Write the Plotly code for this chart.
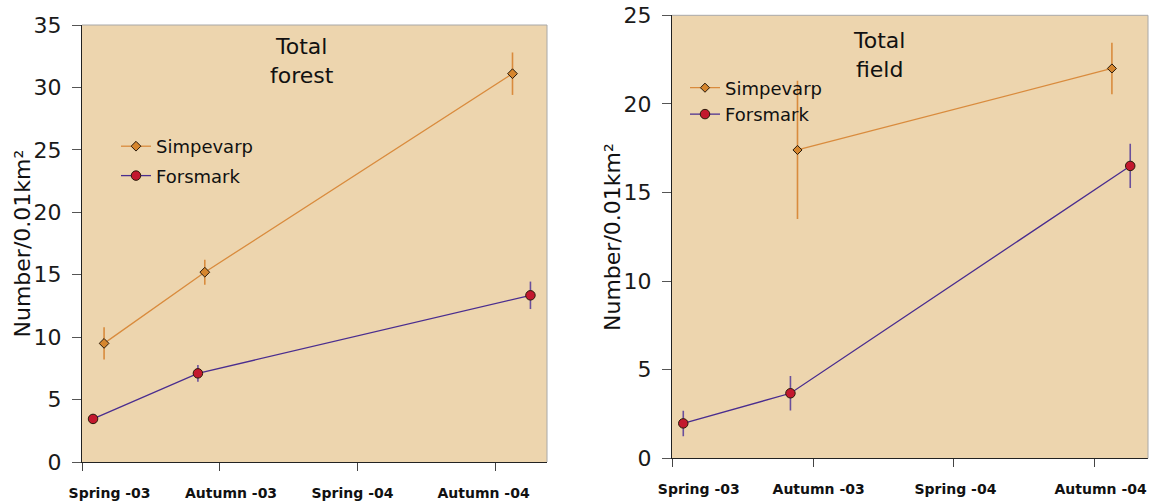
import plotly.graph_objects as go

# ---------------- data ----------------
periods = ["Spring -03", "Autumn -03", "Spring -04", "Autumn -04"]
period_ticks = [0, 1, 2, 3]

# sampling positions (in period units) for each site
simpevarp_x = [0.16, 0.89, 3.12]
forsmark_x = [0.08, 0.84, 3.25]

forest_simpevarp = [9.5, 15.2, 31.1]
forest_simpevarp_err = [1.3, 1.0, 1.7]
forest_forsmark = [3.45, 7.1, 13.35]
forest_forsmark_err = [0.4, 0.67, 1.1]

field_simpevarp_x = [0.89, 3.12]
field_simpevarp = [17.4, 22.0]
field_simpevarp_err = [3.9, 1.45]
field_forsmark = [1.97, 3.67, 16.5]
field_forsmark_err = [0.72, 0.97, 1.25]

# ---------------- style ----------------
W, H = 1149, 502
BG = "#EDD5AE"
S_LINE = "#D98B3D"
S_FILL = "#D6862E"
F_LINE = "#4A2D8F"
F_ERR = "#6A4F9C"
F_FILL = "#C3182E"
EDGE = "#2A1A0A"
FONT = "DejaVu Sans"

def px_x(p):
    return p / W

def px_y(p):
    return 1 - p / H

left_dom = [px_x(82), px_x(547)]
right_dom = [px_x(672), px_x(1148)]
left_ydom = [px_y(462), px_y(25)]
right_ydom = [px_y(458.3), px_y(15.3)]
left_xrange = [0, 3.37]
right_xrange = [0, 3.376]
left_label_pos = [0.2, 1.08, 1.96, 2.91]
right_label_pos = [0.19, 1.04, 2.01, 3.04]

fig = go.Figure()

def add_series(x, y, err, name, line_c, err_c, fill, symbol, size, xa, ya, legend):
    fig.add_trace(go.Scatter(
        x=x, y=y, name=name, mode="lines+markers",
        xaxis=xa, yaxis=ya, legend=legend, legendgroup=name + legend,
        line=dict(color=line_c, width=1.3),
        marker=dict(symbol=symbol, size=size, color=fill, line=dict(color=EDGE, width=1)),
        error_y=dict(type="data", array=err, visible=True, color=err_c, thickness=1.6, width=0),
    ))

# left: Total forest
add_series(simpevarp_x, forest_simpevarp, forest_simpevarp_err, "Simpevarp",
           S_LINE, S_LINE, S_FILL, "diamond", 7.5, "x3", "y", "legend")
add_series(forsmark_x, forest_forsmark, forest_forsmark_err, "Forsmark",
           F_LINE, F_ERR, F_FILL, "circle", 9.5, "x", "y", "legend")
# right: Total field
add_series(field_simpevarp_x, field_simpevarp, field_simpevarp_err, "Simpevarp",
           S_LINE, S_LINE, S_FILL, "diamond", 7, "x4", "y2", "legend2")
add_series(forsmark_x, field_forsmark, field_forsmark_err, "Forsmark",
           F_LINE, F_ERR, F_FILL, "circle", 9.5, "x2", "y2", "legend2")

label_axis = dict(
    tickmode="array", ticktext=periods, ticks="outside", ticklen=18,
    tickcolor="rgba(0,0,0,0)", showline=True, linecolor="#222222", linewidth=1.2,
    showgrid=False, zeroline=False, automargin=False, ticklabeloverflow="allow",
    tickfont=dict(family=FONT, size=14, color="#111111", weight="bold"),
)
mark_axis = dict(
    tickmode="array", tickvals=period_ticks, ticks="outside", ticklen=8,
    tickcolor="#444444", tickwidth=1, showticklabels=False, showline=False,
    showgrid=False, zeroline=False, automargin=False,
)
y_axis = dict(
    dtick=5, ticks="outside", ticklen=9, tickcolor="#555555", tickwidth=1,
    showline=True, linecolor="#222222", linewidth=1.2, showgrid=False, zeroline=False,
    automargin=False, ticklabeloverflow="allow",
    tickfont=dict(family=FONT, size=22, color="#1a1a1a"), ticklabelstandoff=6,
)

fig.update_layout(
    width=W, height=H, margin=dict(l=0, r=0, t=0, b=0, autoexpand=False),
    paper_bgcolor="white", plot_bgcolor=BG,
    font=dict(family=FONT, color="#111111"),
    xaxis=dict(label_axis, domain=left_dom, anchor="y", range=left_xrange, tickvals=left_label_pos),
    xaxis3=dict(mark_axis, overlaying="x", anchor="y", range=left_xrange),
    yaxis=dict(y_axis, domain=left_ydom, anchor="x", range=[0, 35]),
    xaxis2=dict(label_axis, domain=right_dom, anchor="y2", range=right_xrange, tickvals=right_label_pos),
    xaxis4=dict(mark_axis, overlaying="x2", anchor="y2", range=right_xrange),
    yaxis2=dict(y_axis, domain=right_ydom, anchor="x2", range=[0, 25]),
    legend=dict(x=px_x(116), y=px_y(128), xanchor="left", yanchor="top",
                bgcolor="rgba(0,0,0,0)", font=dict(family=FONT, size=18, color="#111111"),
                traceorder="grouped", tracegroupgap=3, itemwidth=30),
    legend2=dict(x=px_x(685), y=px_y(69.5), xanchor="left", yanchor="top",
                 bgcolor="rgba(0,0,0,0)", font=dict(family=FONT, size=18, color="#111111"),
                 traceorder="grouped", tracegroupgap=0, itemwidth=30),
)

# plot-area borders (top/right grey)
for xr, yr in (("x domain", "y domain"), ("x2 domain", "y2 domain")):
    fig.add_shape(type="line", xref=xr, yref=yr, x0=0, x1=1, y0=1, y1=1,
                  line=dict(color="#A8A8A8", width=1))
    fig.add_shape(type="line", xref=xr, yref=yr, x0=1, x1=1, y0=0, y1=1,
                  line=dict(color="#A8A8A8", width=1))

# panel titles
fig.add_annotation(text="Total<br>forest", xref="paper", yref="paper",
                   x=px_x(302), y=px_y(61), showarrow=False, xanchor="center", yanchor="middle",
                   font=dict(family=FONT, size=22, color="#111111"))
fig.add_annotation(text="Total<br>field", xref="paper", yref="paper",
                   x=px_x(879), y=px_y(55), showarrow=False, xanchor="center", yanchor="middle",
                   font=dict(family=FONT, size=22, color="#111111"))

# y-axis titles
fig.add_annotation(text="Number/0.01km²", xref="paper", yref="paper",
                   x=px_x(22), y=px_y(243.5), showarrow=False, textangle=-90,
                   xanchor="center", yanchor="middle",
                   font=dict(family=FONT, size=22, color="#111111"))
fig.add_annotation(text="Number/0.01km²", xref="paper", yref="paper",
                   x=px_x(612), y=px_y(237), showarrow=False, textangle=-90,
                   xanchor="center", yanchor="middle",
                   font=dict(family=FONT, size=22, color="#111111"))

fig.write_html(
    "out.html",
    config={"displayModeBar": False},
    post_script="document.body.style.margin='0';document.body.style.padding='0';",
)
